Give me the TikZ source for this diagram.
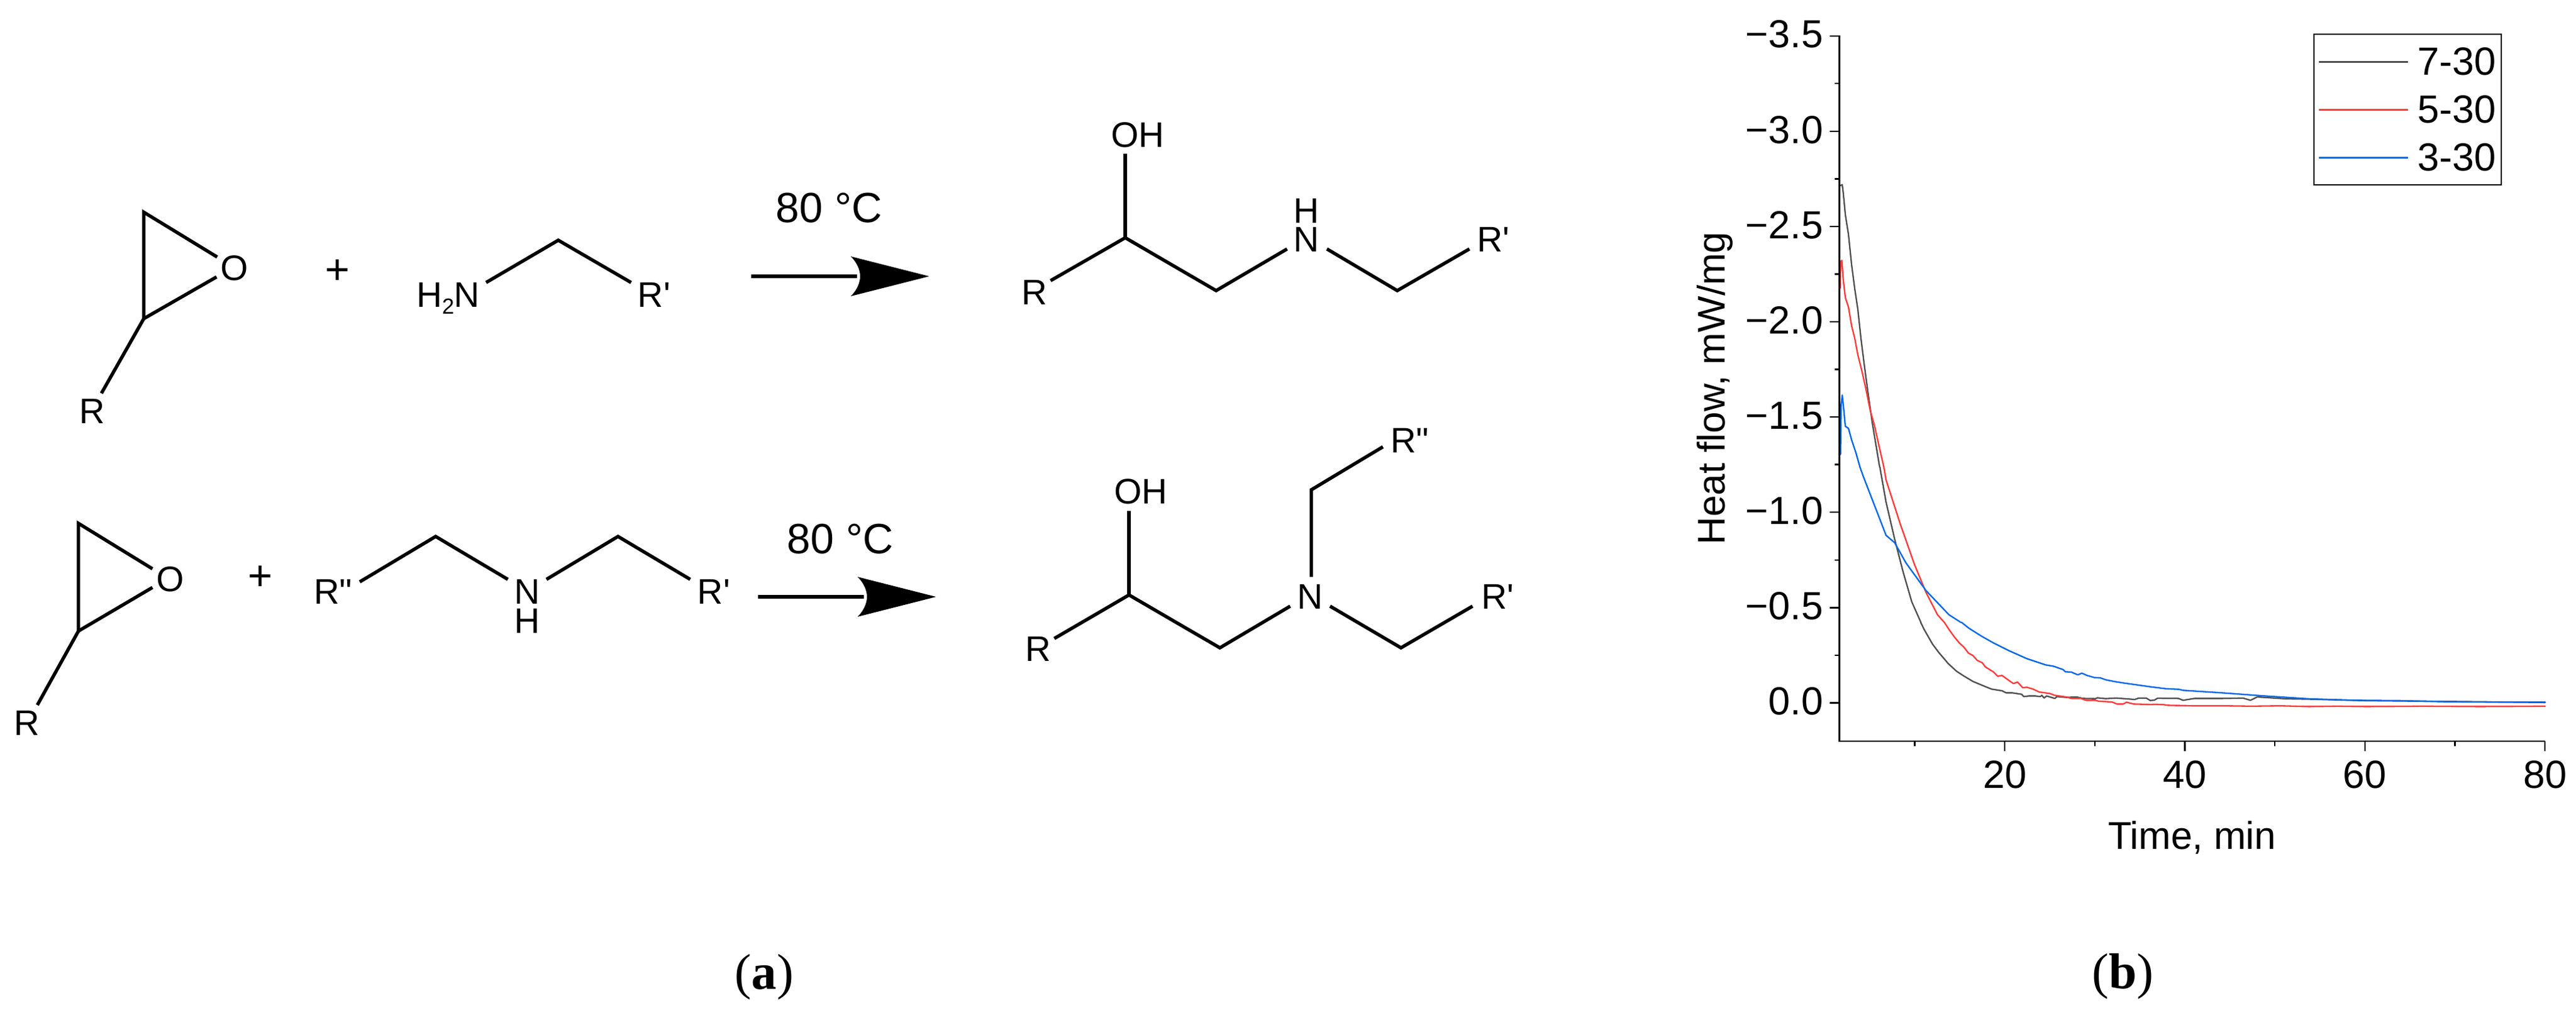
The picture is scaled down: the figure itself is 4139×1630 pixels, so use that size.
\documentclass[tikz,border=0pt]{standalone}
\usepackage{fontspec}
\setmainfont{Liberation Sans}
\newfontfamily\capfont{Liberation Serif}
\newcommand{\fs}[1]{\fontsize{#1}{#1}\selectfont}
\newcommand{\apo}{\textquotesingle}
\newcommand{\dapo}{\textquotedbl}
\definecolor{cgray}{HTML}{505050}
\definecolor{cred}{HTML}{FF3B3B}
\definecolor{cblue}{HTML}{0068E8}
\tikzset{
  bond/.style={line width=1.35pt,black,line join=miter},
  atomlab/.style={inner sep=0pt,outer sep=0pt,anchor=base,font=\fs{14.25}},
  condlab/.style={inner sep=0pt,outer sep=0pt,anchor=base,font=\fs{17}},
  pluslab/.style={inner sep=0pt,outer sep=0pt,anchor=center,font=\fs{17}},
  ticklab/.style={inner sep=0pt,outer sep=0pt,font=\fs{15.75}},
  axlab/.style={inner sep=0pt,outer sep=0pt,font=\fs{15.5}},
  caplab/.style={inner sep=0pt,outer sep=0pt,anchor=center,font=\capfont\fs{20.25}},
  shaft/.style={line width=1.5pt,black},
  axisline/.style={line width=0.65pt,black},
  ticksty/.style={line width=0.6pt,black},
  curve/.style={line width=0.58pt,line join=round,line cap=round},
  legline/.style={line width=0.75pt},
}
\newcommand{\headat}[1]{\fill[black,shift={(#1)}] (0,0) -- (-126,-32) .. controls (-116,-22) and (-111,-10) .. (-111,0) .. controls (-111,10) and (-116,22) .. (-126,32) -- cycle;}
\begin{document}
\begin{tikzpicture}[x=0.25pt,y=-0.25pt]
\fill[white] (0,0) rectangle (4139,1630);
\useasboundingbox (0,0) rectangle (4139,1630);

% ---------- top reaction
\node[atomlab] (r1) at (148,680) {R};
\node[atomlab] (o1) at (377,450) {O};
\node[pluslab] (p1) at (542,437) {+};
\node[atomlab] (nh2) at (720,493) {H{\raisebox{-2.75pt}{\fs{8.75}2}}N};
\node[atomlab] (rp1) at (1051,493) {R\apo};
\node[condlab] (t1) at (1332,357) {80 °C};
\coordinate (e1a) at (231,341);
\coordinate (e1b) at (231,512);
\coordinate (e1c) at (349,413);
\coordinate (e1d) at (348,445);
\coordinate (e1r) at (163,632);
\draw[bond] (e1c) -- (e1a) -- (e1b) -- (e1d);
\draw[bond] (e1b) -- (e1r);
\coordinate (a1a) at (781,454);
\coordinate (a1b) at (897,386);
\coordinate (a1c) at (1014,454);
\draw[bond] (a1a) -- (a1b) -- (a1c);
\coordinate (ar1s) at (1207,444);
\coordinate (ar1e) at (1493,444);
\draw[shaft] (ar1s) -- ++(170,0);
\headat{ar1e}

% top product
\node[atomlab] (r2) at (1662,489) {R};
\node[atomlab] (oh1) at (1828,236) {OH};
\node[atomlab] (n1) at (2099,404) {N};
\node[atomlab] (h1) at (2099,358) {H};
\node[atomlab] (rp2) at (2399,404) {R\apo};
\coordinate (b1) at (1688,451);
\coordinate (b2) at (1808,382);
\coordinate (b3) at (1808,247);
\coordinate (b4) at (1954,467);
\coordinate (b5) at (2068,400);
\coordinate (b6) at (2132,400);
\coordinate (b7) at (2245,467);
\coordinate (b8) at (2361,400);
\draw[bond] (b1) -- (b2) -- (b4) -- (b5);
\draw[bond] (b3) -- (b2);
\draw[bond] (b6) -- (b7) -- (b8);

% ---------- bottom reaction
\node[atomlab] (r3) at (43,1181) {R};
\node[atomlab] (o2) at (274,950) {O};
\node[pluslab] (p2) at (418,929) {+};
\node[atomlab] (rpp1) at (535,970) {R\dapo};
\node[atomlab] (n2) at (847,970) {N};
\node[atomlab] (h2) at (847,1017) {H};
\node[atomlab] (rp3) at (1147,970) {R\apo};
\node[condlab] (t2) at (1350,889) {80 °C};
\coordinate (e2a) at (126,841);
\coordinate (e2b) at (126,1014);
\coordinate (e2c) at (245,914);
\coordinate (e2d) at (245,944);
\coordinate (e2r) at (60,1133);
\draw[bond] (e2c) -- (e2a) -- (e2b) -- (e2d);
\draw[bond] (e2b) -- (e2r);
\coordinate (c1) at (578,935);
\coordinate (c2) at (700,862);
\coordinate (c3) at (816,931);
\coordinate (c4) at (878,931);
\coordinate (c5) at (993,862);
\coordinate (c6) at (1109,931);
\draw[bond] (c1) -- (c2) -- (c3);
\draw[bond] (c4) -- (c5) -- (c6);
\coordinate (ar2s) at (1218,959);
\coordinate (ar2e) at (1504,959);
\draw[shaft] (ar2s) -- ++(170,0);
\headat{ar2e}

% bottom product
\node[atomlab] (r4) at (1668,1062) {R};
\node[atomlab] (oh2) at (1833,809) {OH};
\node[atomlab] (n3) at (2105,978) {N};
\node[atomlab] (rp4) at (2406,978) {R\apo};
\node[atomlab] (rpp2) at (2265,727) {R\dapo};
\coordinate (d1) at (1694,1026);
\coordinate (d2) at (1814,956);
\coordinate (d3) at (1814,821);
\coordinate (d4) at (1960,1041);
\coordinate (d5) at (2073,974);
\coordinate (d6) at (2137,974);
\coordinate (d7) at (2251,1041);
\coordinate (d8) at (2366,974);
\coordinate (d9) at (2107,927);
\coordinate (d10) at (2107,787);
\coordinate (d11) at (2222,718);
\draw[bond] (d1) -- (d2) -- (d4) -- (d5);
\draw[bond] (d3) -- (d2);
\draw[bond] (d6) -- (d7) -- (d8);
\draw[bond] (d9) -- (d10) -- (d11);

% ---------- chart: curves, gray
\begin{scope}[shift={(2920,250)},x=0.08333pt,y=-0.08333pt]
\draw[curve,cgray] (110,145) -- (120,140) -- (125,180) -- (135,285) -- (150,380) -- (165,525) -- (180,640) -- (195,740) -- (210,880) -- (225,1000) -- (245,1150) -- (265,1290) -- (280,1380) -- (300,1500);
\end{scope}
\begin{scope}[shift={(2700,700)},x=0.22943pt,y=-0.14828pt]
\draw[curve,cgray] (349,84) -- (360,180) -- (375,280) -- (390,370) -- (405,450) -- (421,506);
\end{scope}
\begin{scope}[shift={(3000,1000)},x=0.08333pt,y=-0.08333pt]
\draw[curve,cgray] (258,0) -- (275,35) -- (295,70) -- (315,105) -- (345,145) -- (375,180) -- (390,198) -- (430,235) -- (465,258) -- (510,285) -- (570,310) -- (600,322) -- (650,330) -- (670,340) -- (700,340) -- (745,347) -- (755,358) -- (780,355) -- (810,355) -- (835,358) -- (842,352) -- (853,365) -- (865,355) -- (905,367) -- (915,358) -- (960,362) -- (1010,360) -- (1040,367) -- (1100,368) -- (1110,364) -- (1150,368) -- (1200,365) -- (1290,372) -- (1310,365) -- (1345,365) -- (1365,377) -- (1385,375) -- (1400,366) -- (1500,367);
\end{scope}
\begin{scope}[shift={(2700,700)},x=0.22943pt,y=-0.14828pt]
\draw[curve,cgray] (872,712) -- (880,717) -- (900,712) -- (950,712) -- (985,711) -- (998,717) -- (1010,708) -- (1060,713) -- (1100,714) -- (1200,718) -- (1514,723);
\end{scope}
% red
\begin{scope}[shift={(2920,250)},x=0.08333pt,y=-0.08333pt]
\draw[curve,cred] (110,640) -- (113,510) -- (118,505) -- (125,600) -- (135,685) -- (150,730) -- (165,820) -- (180,880) -- (195,960) -- (215,1040) -- (235,1130) -- (255,1230) -- (275,1300) -- (295,1390) -- (320,1500);
\end{scope}
\begin{scope}[shift={(2700,700)},x=0.22943pt,y=-0.14828pt]
\draw[curve,cred] (356,84) -- (360,120) -- (385,240) -- (410,350) -- (430,425) -- (450,485) -- (462,506);
\end{scope}
\begin{scope}[shift={(3000,1000)},x=0.08333pt,y=-0.08333pt]
\draw[curve,cred] (372,0) -- (395,35) -- (420,70) -- (445,100) -- (465,118) -- (488,148) -- (510,160) -- (530,183) -- (555,195) -- (570,215) -- (610,240) -- (630,260) -- (650,256) -- (690,285) -- (705,295) -- (725,288) -- (750,315) -- (770,313) -- (800,322) -- (830,336) -- (880,343) -- (905,352) -- (960,360) -- (985,367) -- (1030,367) -- (1055,376) -- (1100,376) -- (1115,380) -- (1180,384) -- (1205,394) -- (1235,394) -- (1250,385) -- (1285,394) -- (1370,396) -- (1390,395) -- (1430,397) -- (1450,400) -- (1500,401);
\end{scope}
\begin{scope}[shift={(2700,700)},x=0.22943pt,y=-0.14828pt]
\draw[curve,cred] (872,731) -- (900,732) -- (950,732) -- (1000,733) -- (1050,732) -- (1100,734) -- (1150,733) -- (1200,734) -- (1300,733) -- (1400,734) -- (1514,733);
\end{scope}
% blue
\begin{scope}[shift={(2920,250)},x=0.08333pt,y=-0.08333pt]
\draw[curve,cblue] (112,1440) -- (115,1200) -- (120,1155) -- (125,1200) -- (135,1305) -- (150,1315) -- (165,1370) -- (185,1430) -- (205,1500);
\end{scope}
\begin{scope}[shift={(2700,700)},x=0.22943pt,y=-0.14828pt]
\draw[curve,cblue] (314,84) -- (320,110) -- (340,190) -- (360,270) -- (375,290) -- (395,345) -- (430,420) -- (470,485) -- (491,506);
\end{scope}
\begin{scope}[shift={(3000,1000)},x=0.08333pt,y=-0.08333pt]
\draw[curve,cblue] (455,0) -- (490,28) -- (550,66) -- (610,100) -- (680,135) -- (770,175) -- (860,205) -- (900,212) -- (945,228) -- (955,238) -- (985,240) -- (1015,253) -- (1035,245) -- (1060,256) -- (1095,266) -- (1125,268) -- (1150,277) -- (1190,285) -- (1240,293) -- (1290,300) -- (1360,310) -- (1440,320) -- (1500,323);
\end{scope}
\begin{scope}[shift={(2700,700)},x=0.22943pt,y=-0.14828pt]
\draw[curve,cblue] (872,687) -- (880,690) -- (950,697) -- (1020,705) -- (1100,713) -- (1180,717) -- (1260,718) -- (1340,721) -- (1440,722) -- (1514,722);
\end{scope}

% axes
\coordinate (ax0) at (2955.5,57);
\coordinate (ax1) at (2955.5,1191);
\coordinate (ax2) at (4089,1191);
\draw[axisline,line join=miter] (ax0) -- (ax1) -- (ax2);
\foreach \v/\lab in {0/0.0,1/−0.5,2/−1.0,3/−1.5,4/−2.0,5/−2.5,6/−3.0,7/−3.5}{
  \draw[ticksty] (2955.5,1129.4-153.1*\v) -- ++(-16,0);
  \node[ticklab,anchor=east] at (2929,1127-153.1*\v) {\lab};
}
\foreach \v in {0,1,...,6}{
  \draw[ticksty] (2955.5,1129.4-76.55-153.1*\v) -- ++(-8,0);
}
\foreach \t in {20,40,60,80}{
  \draw[ticksty] (2931.6+14.47*\t,1191) -- ++(0,16);
  \node[ticklab,anchor=base] at (2931.6+14.47*\t,1266) {\t};
}
\foreach \t in {10,30,50,70}{
  \draw[ticksty] (2931.6+14.47*\t,1191) -- ++(0,8);
}
\node[axlab,anchor=base] (xl) at (3522,1364) {Time, min};
\node[axlab,anchor=base,rotate=90] (yl) at (2771.6,624) {Heat flow, mW/mg};

% legend
\draw[line width=0.33pt,black] (3718,55) rectangle (4019,297);
\foreach \y/\c/\lab in {99/cgray/7-30,176/cred/5-30,253/cblue/3-30}{
  \draw[legline,\c] (3726,\y) -- (3869,\y);
  \node[ticklab,anchor=base west] at (3884,\y+21) {\lab};
}

% captions
\node[caplab] (capa) at (1228,1570) {(\textbf{a})};
\node[caplab] (capb) at (3410.5,1569) {(\textbf{b})};
\end{tikzpicture}
\end{document}
